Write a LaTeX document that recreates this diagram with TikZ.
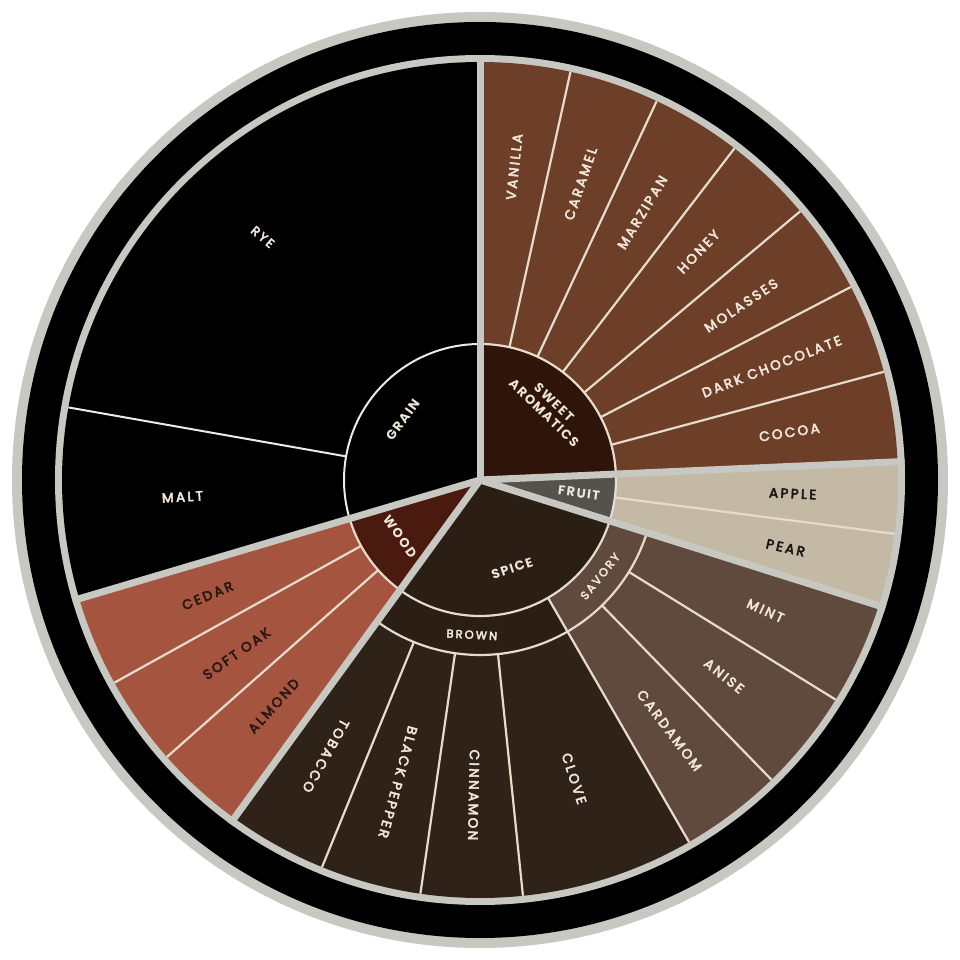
\documentclass[tikz,border=0pt]{standalone}
\usepackage{fontspec}
\newfontfamily\lab[LetterSpace=18, FakeBold=4]{Poppins}
\newfontfamily\labb[LetterSpace=11]{Poppins}
\definecolor{ringgray}{RGB}{200,200,195}
\definecolor{sweetin}{RGB}{47,20,9}
\definecolor{sweetleaf}{RGB}{109,62,40}
\definecolor{fruitin}{RGB}{85,82,77}
\definecolor{fruitleaf}{RGB}{195,185,164}
\definecolor{spicein}{RGB}{43,30,21}
\definecolor{brownleaf}{RGB}{47,34,24}
\definecolor{savory}{RGB}{96,74,61}
\definecolor{woodin}{RGB}{74,26,15}
\definecolor{woodleaf}{RGB}{165,84,63}
\definecolor{cream}{RGB}{239,230,218}
\definecolor{sepline}{RGB}{230,220,205}
\definecolor{darktext}{RGB}{28,22,18}
\definecolor{woodtext}{RGB}{42,24,18}
\newcommand{\annsec}[5]{\fill[#1] (#2:#4) arc[start angle=#2,end angle=#3,radius=#4] -- (#3:#5) arc[start angle=#3,end angle=#2,radius=#5] -- cycle;}
\tikzset{
  thinsep/.style={draw=sepline, line width=2.2pt},
  whitesep/.style={draw=white!92!black, line width=2pt},
  gap/.style={draw=ringgray, line width=7pt, line cap=butt},
  leaflab/.style={font=\lab\fontsize{13.5}{15}\selectfont, text=cream, inner sep=0pt},
  darklab/.style={leaflab, text=darktext},
  woodlab/.style={leaflab, text=woodtext},
  innerlab/.style={font=\labb\bfseries\fontsize{13}{14.5}\selectfont, text=cream, inner sep=0pt, align=center},
  ringlab/.style={font=\lab\fontsize{11.5}{13}\selectfont, text=cream, inner sep=0pt},
}
\begin{document}
\begin{tikzpicture}[x=1pt,y=1pt]
\useasboundingbox (-480,-480) rectangle (480,480);
\fill[white] (-480,-480) rectangle (480,480);
% outer rings
\fill[ringgray] (0,0) circle (468);
\fill[black] (0,0) circle (458);
\fill[ringgray] (0,0) circle (425);
% GRAIN
\annsec{black}{90}{196.5}{0.01}{418}
% SWEET AROMATICS
\annsec{sweetin}{2.5}{90}{0.01}{136}
\annsec{sweetleaf}{2.5}{90}{136}{418}
% FRUIT
\annsec{fruitin}{342.5}{362.5}{0.01}{136}
\annsec{fruitleaf}{342.5}{362.5}{136}{418}
% SPICE
\annsec{spicein}{234}{342.5}{0.01}{136}
\annsec{spicein}{234}{300}{136}{175}
\annsec{savory}{300}{342.5}{136}{175}
\annsec{brownleaf}{234}{300}{175}{418}
\annsec{savory}{300}{342.5}{175}{418}
% WOOD
\annsec{woodin}{196.5}{234}{0.01}{136}
\annsec{woodleaf}{196.5}{234}{136}{418}
% thin separators
\draw[whitesep] (90:136) arc[start angle=90,end angle=196.5,radius=136];
\draw[whitesep] (170:136) -- (170:418);
\draw[thinsep] (2.5:136) arc[start angle=2.5,end angle=90,radius=136];
\foreach \a in {15,27.5,40,52.5,65,77.5} \draw[thinsep] (\a:136) -- (\a:418);
\draw[thinsep] (342.5:136) arc[start angle=342.5,end angle=362.5,radius=136];
\draw[thinsep] (352.6:136) -- (352.6:418);
\draw[thinsep] (234:136) arc[start angle=234,end angle=342.5,radius=136];
\draw[thinsep] (234:175) arc[start angle=234,end angle=342.5,radius=175];
\draw[thinsep] (300:136) -- (300:418);
\foreach \a in {247.8,261.8,275.9,314.2,328.3} \draw[thinsep] (\a:175) -- (\a:418);
\draw[thinsep] (196.5:136) arc[start angle=196.5,end angle=234,radius=136];
\foreach \a in {209,221.5} \draw[thinsep] (\a:136) -- (\a:418);
% thick gaps between categories
\foreach \a in {2.5,90,196.5,234,342.5} \draw[gap] (0,0) -- (\a:425);
% inner labels
\node[innerlab, rotate=53.25] (lgrain) at (142:98) {GRAIN};
\node[innerlab, rotate=-43.75] (lsweet) at (46.25:100) {SWEET\\AROMATICS};
\node[innerlab, rotate=-7.5] (lfruit) at (352.5:100) {FRUIT};
\node[innerlab, rotate=18.25] (lspice) at (290:94) {SPICE};
\node[innerlab, rotate=-54.75] (lwood) at (215.25:98) {WOOD};
\node[ringlab, rotate=-3] (lbrown) at (267:155) {BROWN};
\node[ringlab, rotate=51.25] (lsavory) at (321.25:154) {SAVORY};
% grain leaves
\node[ringlab, font=\lab\fontsize{12.5}{14}\selectfont, rotate=-40] (lrye) at (131.8:326) {RYE};
\node[leaflab, rotate=3.25] (lmalt) at (183.25:298) {MALT};
% sweet leaves
\node[leaflab, rotate=83.75] (lvanilla) at (83.75:315) {VANILLA};
\node[leaflab, rotate=71.25] (lcaramel) at (71.25:313) {CARAMEL};
\node[leaflab, rotate=58.75] (lmarzipan) at (58.75:313) {MARZIPAN};
\node[leaflab, rotate=46.25] (lhoney) at (46.25:316) {HONEY};
\node[leaflab, rotate=33.75] (lmolasses) at (33.75:314) {MOLASSES};
\node[leaflab, rotate=21.25] (ldark) at (21.25:313) {DARK CHOCOLATE};
\node[leaflab, rotate=8.75] (lcocoa) at (8.75:313) {COCOA};
% fruit leaves
\node[darklab, rotate=-2.5] (lapple) at (357.5:313) {APPLE};
\node[darklab, rotate=-12.5] (lpear) at (347.5:313) {PEAR};
% savory leaves
\node[leaflab, rotate=335.4] (lmint) at (335.4:314) {MINT};
\node[leaflab, rotate=321.25] (lanise) at (321.25:313) {ANISE};
\node[leaflab, rotate=307.1] (lcardamom) at (307.1:314) {CARDAMOM};
% brown leaves
\node[leaflab, rotate=287.95] (lclove) at (287.5:313) {CLOVE};
\node[leaflab, rotate=268.85] (lcinnamon) at (268.85:315) {CINNAMON};
\node[leaflab, rotate=254.8] (lpepper) at (254.8:313) {BLACK PEPPER};
\node[leaflab, rotate=240.9] (ltobacco) at (240.8:316) {TOBACCO};
% wood leaves
\node[woodlab, rotate=22.75] (lcedar) at (203:296) {CEDAR};
\node[woodlab, rotate=35.25] (lsoftoak) at (215.5:299) {SOFT OAK};
\node[woodlab, rotate=47.75] (lalmond) at (227.6:306) {ALMOND};
\end{tikzpicture}
\end{document}
